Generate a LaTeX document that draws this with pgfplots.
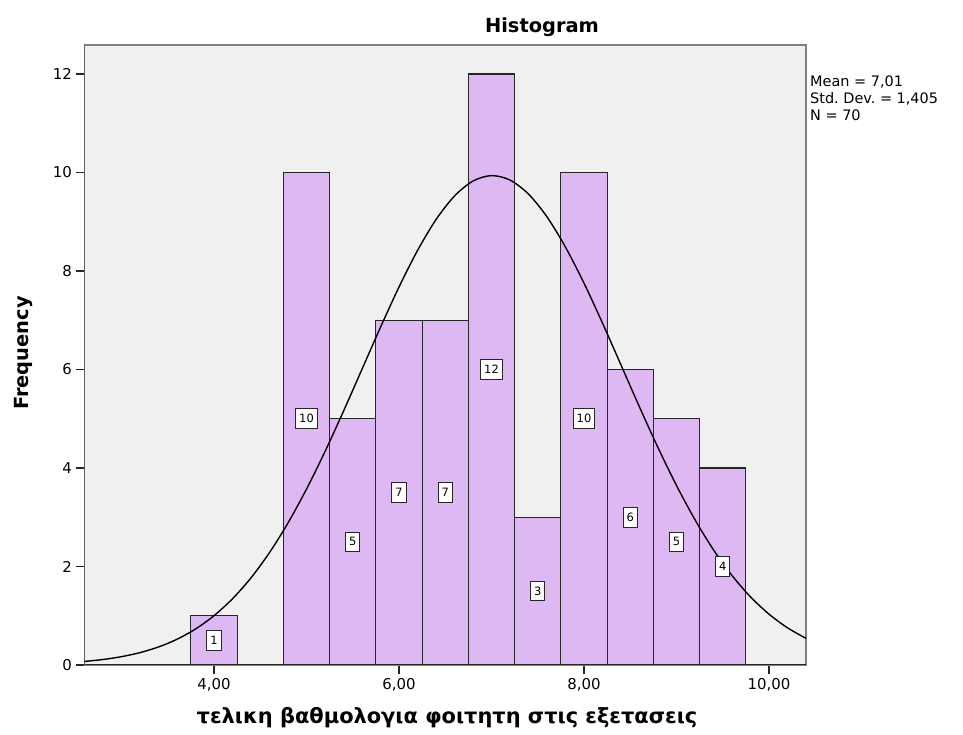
\documentclass[border=0pt]{standalone}
\usepackage{fontspec}
\setmainfont{DejaVu Sans}
\usepackage{pgfplots}
\pgfplotsset{compat=1.18}
\definecolor{bg}{RGB}{240,240,240}
\definecolor{barfill}{RGB}{222,184,242}
\frenchspacing
\begin{document}
\begin{tikzpicture}
\useasboundingbox (0,0) rectangle (963bp,735bp);
\begin{axis}[
  at={(84.5bp,70bp)}, anchor=south west,
  scale only axis, width=721.5bp, height=620bp,
  xmin=2.6, xmax=10.4, ymin=0, ymax=12.59,
  axis background/.style={fill=bg},
  axis line style={draw=gray, line width=1.2pt},
  xtick={4,6,8,10}, xticklabels={{4,00},{6,00},{8,00},{10,00}},
  ytick={0,2,4,6,8,10,12},
  tick align=outside, major tick length=9bp,
  major tick style={black!85, line width=1.2pt},
  xtick pos=bottom, ytick pos=left,
  tick label style={font=\fontsize{15}{17}\selectfont},
  xticklabel style={yshift=-1bp},
  /pgf/number format/assume math mode=true,
  clip=true,
]
\addplot[ybar, bar width=0.5, bar shift=0pt, fill=barfill, draw=black!85, line width=1.2pt]
  coordinates {(4,1)(5,10)(5.5,5)(6,7)(6.5,7)(7,12)(7.5,3)(8,10)(8.5,6)(9,5)(9.5,4)};
\addplot[only marks, mark=none, nodes near coords, point meta=explicit symbolic,
  nodes near coords style={anchor=center, fill=white, draw=black!85, line width=1pt,
  inner xsep=3.5pt, inner ysep=5.5pt, font=\fontsize{11.5}{13}\selectfont}]
  coordinates {(4,0.5)[1] (5,5)[10] (5.5,2.5)[5] (6,3.5)[7] (6.5,3.5)[7] (7,6)[12]
  (7.5,1.5)[3] (8,5)[10] (8.5,3)[6] (9,2.5)[5] (9.5,2)[4]};
\addplot[black, line width=1.4pt, smooth] coordinates {
(2.6,0.0721)(2.8,0.1116)(3.0,0.1692)(3.2,0.2515)(3.4,0.3662)(3.6,0.5226)(3.8,0.7308)
(4.0,1.0015)(4.2,1.3450)(4.4,1.7699)(4.6,2.2825)(4.8,2.8845)(5.0,3.5716)(5.2,4.3342)
(5.4,5.1545)(5.6,6.0063)(5.8,6.8587)(6.0,7.6754)(6.2,8.4164)(6.4,9.0443)(6.6,9.5239)
(6.8,9.8277)(7.0,9.9379)(7.2,9.8477)(7.4,9.5624)(7.6,9.0994)(7.8,8.4850)(8.0,7.7535)
(8.2,6.9426)(8.4,6.0921)(8.6,5.2387)(8.8,4.4140)(9.0,3.6450)(9.2,2.9493)(9.4,2.3384)
(9.6,1.8171)(9.8,1.3836)(10.0,1.0325)(10.2,0.7550)(10.4,0.5407)};
\draw[black!85, line width=1.5pt] (rel axis cs:0,1) -- (rel axis cs:0,0) -- (rel axis cs:1,0);
\end{axis}
\node[font=\bfseries\fontsize{19.5}{23}\selectfont] at (542bp,708bp) {Histogram};
\node[font=\fontsize{14.5}{17}\selectfont, align=left, anchor=north west, inner sep=0pt] at (810bp,659bp) {Mean = 7,01\\Std. Dev. = 1,405\\N = 70};
\node[rotate=90, font=\bfseries\fontsize{19.5}{22}\selectfont] at (24bp,382bp) {Frequency};
\node[font=\bfseries\fontsize{21}{24}\selectfont] at (447bp,17bp) {τελικη βαθμολογια φοιτητη στις εξετασεις};
\end{tikzpicture}
\end{document}
